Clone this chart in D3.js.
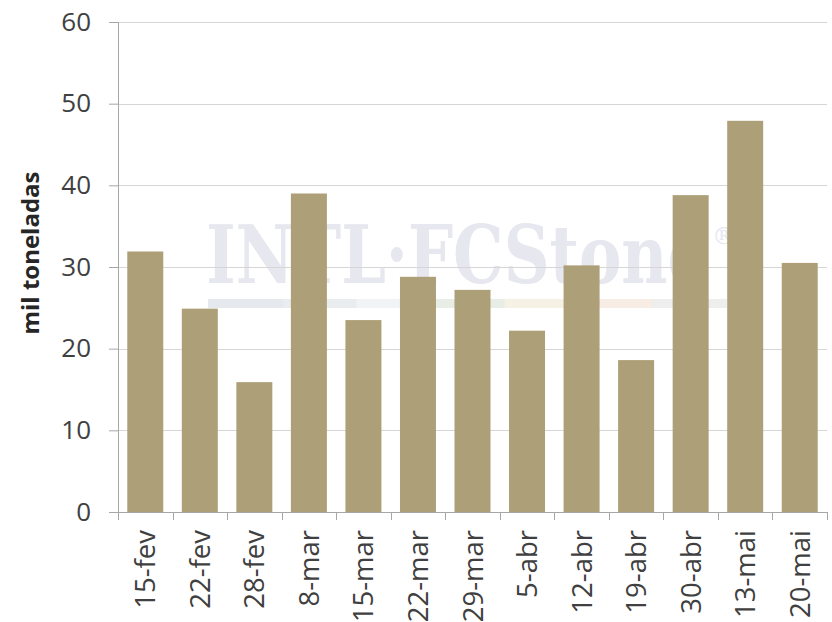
<!DOCTYPE html>
<html>
<head>
<meta charset="utf-8">
<script src="https://cdn.jsdelivr.net/npm/d3@7"></script>
<style>
  body { margin: 0; background: #fff; }
  text { font-family: "Open Sans", "Noto Sans", sans-serif; }
</style>
</head>
<body>
<div id="chart"></div>
<script>
const categories = ["15-fev", "22-fev", "28-fev", "8-mar", "15-mar", "22-mar", "29-mar",
  "5-abr", "12-abr", "19-abr", "30-abr", "13-mai", "20-mai"];
const values = [31.9, 24.9, 15.9, 39.0, 23.5, 28.8, 27.2, 22.2, 30.2, 18.6, 38.8, 47.9, 30.5];
const yTicks = [0, 10, 20, 30, 40, 50, 60];

const W = 832, H = 622;
const margin = {top: 22, right: 5, bottom: 110, left: 118};
const width = W - margin.left - margin.right,
  height = H - margin.top - margin.bottom;

const svg = d3.select("#chart")
  .append("svg")
  .attr("width", W)
  .attr("height", H);

// faint watermark
const wm = svg.append("g");
const stripe = ["#dfe3ea", "#e3e8ec", "#eef0f2", "#e2e8e0", "#f3eedd", "#f6e9dd", "#eaeaea"];
const stripeX = d3.scaleBand().domain(d3.range(stripe.length)).range([208, 726]);
wm.selectAll("rect")
  .data(stripe)
  .join("rect")
    .attr("x", (d, i) => stripeX(i))
    .attr("y", 299)
    .attr("width", stripeX.bandwidth() + 1)
    .attr("height", 9)
    .attr("fill", d => d)
    .attr("opacity", 0.8);
wm.append("text")
  .attr("x", 206)
  .attr("y", 283)
  .attr("font-size", 80)
  .attr("font-weight", "bold")
  .attr("fill", "#e6e7ef")
  .attr("textLength", 502)
  .attr("lengthAdjust", "spacingAndGlyphs")
  .style("font-family", "'DejaVu Serif', serif")
  .text("INTL\u00b7FCStone");
wm.append("text")
  .attr("x", 712)
  .attr("y", 244)
  .attr("font-size", 24)
  .attr("fill", "#e6e7ef")
  .style("font-family", "'DejaVu Serif', serif")
  .text("\u00ae");

const g = svg.append("g")
  .attr("transform", `translate(${margin.left},${margin.top})`);

const x = d3.scaleBand()
  .domain(categories)
  .range([0, width])
  .paddingInner(0.34)
  .paddingOuter(0.17);

const y = d3.scaleLinear([0, 60], [height, 0]);

// gridlines
g.append("g")
  .selectAll("line")
  .data(yTicks.filter(d => d > 0))
  .join("line")
    .attr("x1", 0)
    .attr("x2", width)
    .attr("y1", d => Math.round(y(d)) + 0.5)
    .attr("y2", d => Math.round(y(d)) + 0.5)
    .attr("stroke", "#d6d6d6")
    .attr("stroke-width", 1.2);

// bars
g.append("g")
  .selectAll("rect")
  .data(values)
  .join("rect")
    .attr("x", (d, i) => x(categories[i]))
    .attr("y", d => y(d))
    .attr("width", x.bandwidth())
    .attr("height", d => height - y(d))
    .attr("fill", "#ad9f77");

// y axis
const yAxis = g.append("g")
  .call(d3.axisLeft(y).tickValues(yTicks).tickSize(9).tickPadding(18));
yAxis.select(".domain").attr("stroke", "#a6a6a6").attr("d", `M0.5,0V${height}`);
yAxis.selectAll(".tick line").attr("stroke", "#a6a6a6");
yAxis.selectAll(".tick text")
  .attr("fill", "#404040")
  .attr("font-size", 26)
  .style("font-family", "'Open Sans', sans-serif");

// x axis with band-edge ticks
const xAxis = g.append("g")
  .attr("transform", `translate(0,${height})`)
  .call(d3.axisBottom(x).tickSize(0).tickPadding(0));
xAxis.select(".domain").attr("stroke", "#a6a6a6").attr("d", `M0,0.5H${width}`);
xAxis.selectAll(".tick text")
  .attr("fill", "#404040")
  .attr("font-size", 27.5)
  .style("font-family", "'Open Sans', sans-serif")
  .attr("text-anchor", "end")
  .attr("dy", null)
  .attr("y", 0)
  .attr("transform", "translate(10,18) rotate(-90)");
xAxis.append("g")
  .selectAll("line")
  .data(d3.range(categories.length + 1))
  .join("line")
    .attr("x1", i => Math.round(i * x.step()) + 0.5)
    .attr("x2", i => Math.round(i * x.step()) + 0.5)
    .attr("y1", 0)
    .attr("y2", 8)
    .attr("stroke", "#a6a6a6");

// y axis title
svg.append("text")
  .attr("transform", `translate(39,${margin.top + height / 2 - 14}) rotate(-90)`)
  .attr("text-anchor", "middle")
  .attr("font-size", 24)
  .attr("font-weight", "bold")
  .attr("fill", "#262626")
  .text("mil toneladas");
</script>
</body>
</html>
